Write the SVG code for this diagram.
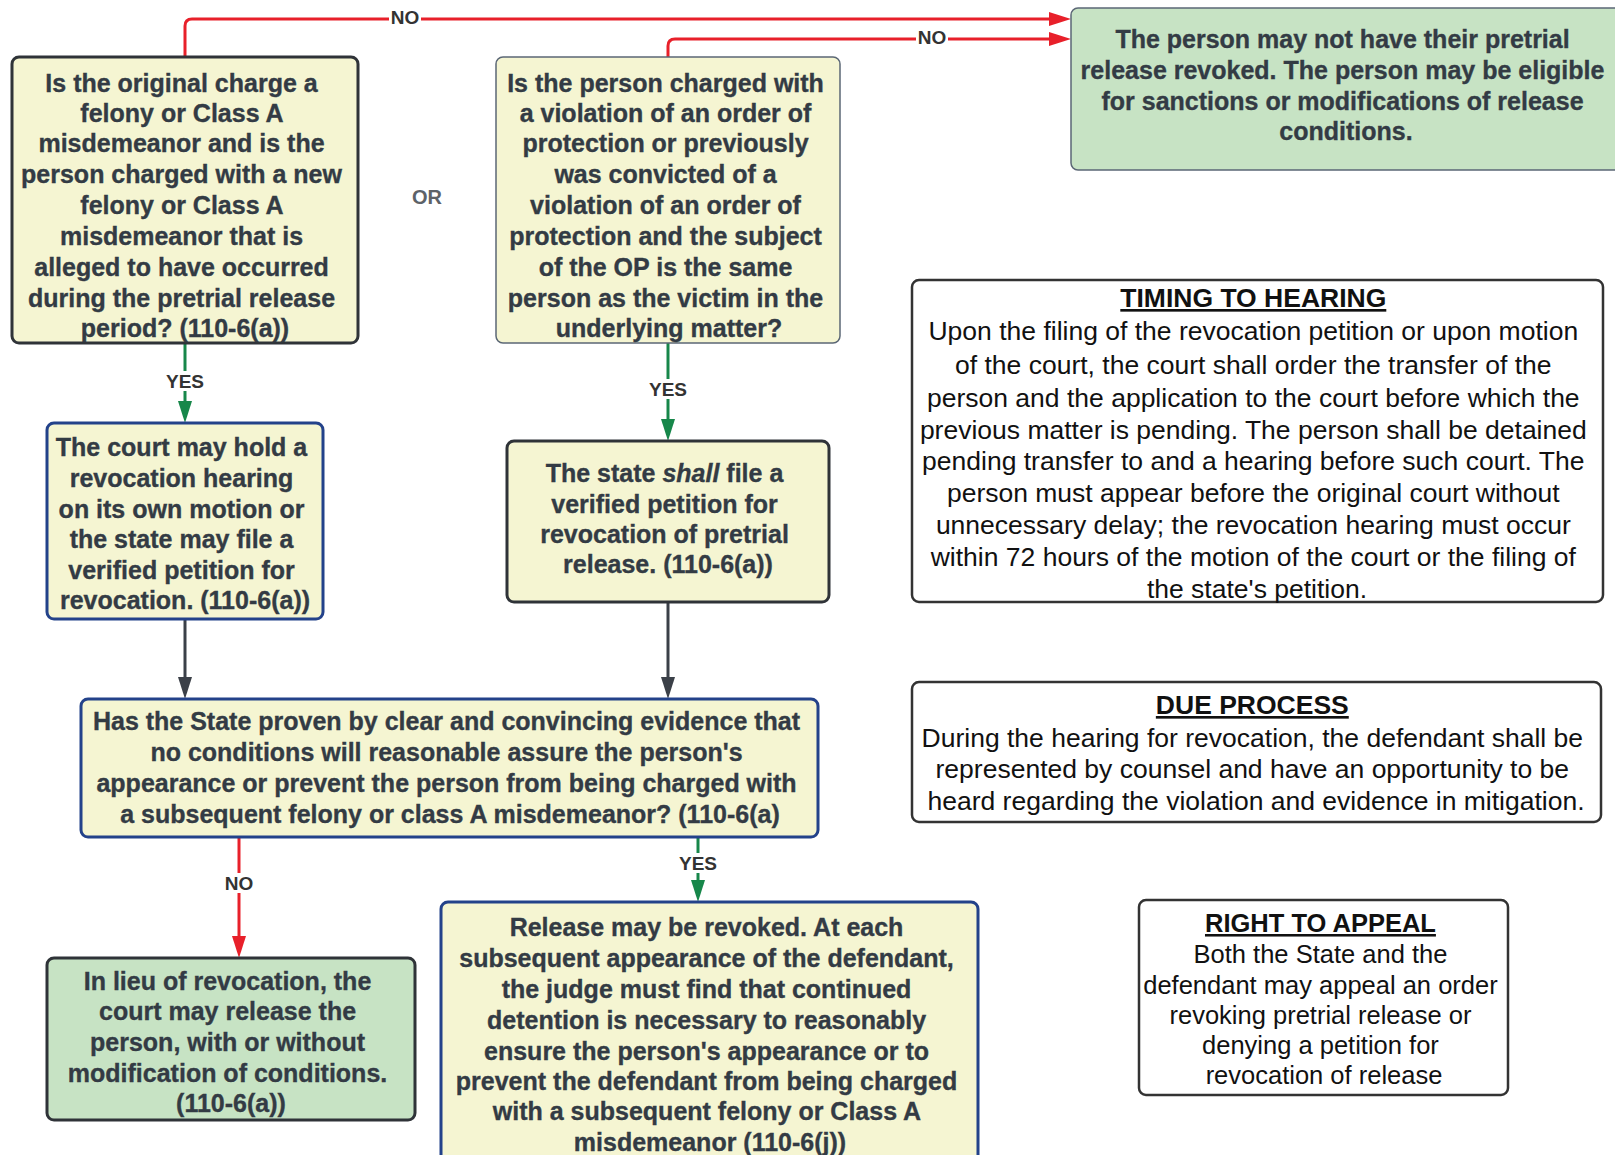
<svg xmlns="http://www.w3.org/2000/svg" width="1615" height="1155" viewBox="0 0 1615 1155">
  <style>
    .bg { fill: #ffffff; }
    .q { fill: #f5f5d2; }
    .ok { fill: #c7e3c4; }
    .dark { stroke: #2f3338; stroke-width: 3; }
    .blue { stroke: #23428a; stroke-width: 3; }
    .thin { stroke: #5b6775; stroke-width: 1.5; }
    .note { fill: #ffffff; stroke: #333333; stroke-width: 2.5; }
    .t { font-family: "Liberation Sans", Arial, sans-serif; font-weight: bold; font-size: 25px; fill: #333b44; stroke: #333b44; stroke-width: 0.35px; text-anchor: middle; }
    .n { font-family: "Liberation Sans", Arial, sans-serif; font-size: 26.5px; fill: #111111; text-anchor: middle; }
    .n.small { font-size: 25.5px; }
    .h { font-weight: bold; text-decoration: underline; }
    .lbl { font-family: "Liberation Sans", Arial, sans-serif; font-weight: bold; font-size: 19px; fill: #333333; text-anchor: middle; }
    .red { fill: none; stroke: #e8202a; stroke-width: 3; }
    .grn { fill: none; stroke: #17874a; stroke-width: 3; }
    .gry { fill: none; stroke: #3b4048; stroke-width: 3; }
  </style>
  <defs>
    <marker id="ah-red" viewBox="0 0 22 14" refX="8" refY="7" markerWidth="22" markerHeight="14" markerUnits="userSpaceOnUse" orient="auto">
      <path d="M0,0 L22,7 L0,14 Z" fill="#e8202a"/>
    </marker>
    <marker id="ah-grn" viewBox="0 0 22 14" refX="8" refY="7" markerWidth="22" markerHeight="14" markerUnits="userSpaceOnUse" orient="auto">
      <path d="M0,0 L22,7 L0,14 Z" fill="#17874a"/>
    </marker>
    <marker id="ah-gry" viewBox="0 0 22 14" refX="8" refY="7" markerWidth="22" markerHeight="14" markerUnits="userSpaceOnUse" orient="auto">
      <path d="M0,0 L22,7 L0,14 Z" fill="#3b4048"/>
    </marker>
  </defs>

  <rect class="bg" x="0" y="0" width="1615" height="1155"/>

  <!-- connectors -->
  <g id="connectors">
    <path class="red" d="M185,57 V26 Q185,19 192,19 H1057" marker-end="url(#ah-red)"/>
    <path class="red" d="M668,57 V46 Q668,39 675,39 H1057" marker-end="url(#ah-red)"/>
    <path class="grn" d="M185,343 V409" marker-end="url(#ah-grn)"/>
    <path class="grn" d="M668,343 V427" marker-end="url(#ah-grn)"/>
    <path class="gry" d="M185,619 V685" marker-end="url(#ah-gry)"/>
    <path class="gry" d="M668,602 V685" marker-end="url(#ah-gry)"/>
    <path class="red" d="M239,837 V944" marker-end="url(#ah-red)"/>
    <path class="grn" d="M698,837 V888" marker-end="url(#ah-grn)"/>

    <rect x="389" y="8" width="32" height="20" fill="#ffffff"/>
    <text class="lbl" x="405" y="24">NO</text>
    <rect x="916" y="28" width="32" height="20" fill="#ffffff"/>
    <text class="lbl" x="932" y="44">NO</text>
    <rect x="164" y="371" width="42" height="20" fill="#ffffff"/>
    <text class="lbl" x="185" y="388">YES</text>
    <rect x="647" y="379" width="42" height="20" fill="#ffffff"/>
    <text class="lbl" x="668" y="396">YES</text>
    <rect x="223" y="873" width="32" height="20" fill="#ffffff"/>
    <text class="lbl" x="239" y="890">NO</text>
    <rect x="677" y="853" width="42" height="20" fill="#ffffff"/>
    <text class="lbl" x="698" y="870">YES</text>
  </g>

  <!-- first question: new felony / Class A charge -->
  <g id="q-new-charge">
    <rect class="q dark" x="12" y="57" width="346" height="286" rx="7"/>
    <text class="t">
      <tspan x="185" y="91.5">Is the original charge a</tspan>
      <tspan x="185" y="122">felony or Class A</tspan>
      <tspan x="185" y="152">misdemeanor and is the</tspan>
      <tspan x="185" y="183">person charged with a new</tspan>
      <tspan x="185" y="214">felony or Class A</tspan>
      <tspan x="185" y="245">misdemeanor that is</tspan>
      <tspan x="185" y="276">alleged to have occurred</tspan>
      <tspan x="185" y="307">during the pretrial release</tspan>
      <tspan x="185" y="337">period? (110-6(a))</tspan>
    </text>
  </g>

  <g id="or-label">
    <text x="427" y="204" font-family="Liberation Sans, Arial, sans-serif" font-weight="bold" font-size="20" fill="#5d6268" text-anchor="middle">OR</text>
  </g>

  <!-- second question: order of protection -->
  <g id="q-order-protection">
    <rect class="q thin" x="496" y="57" width="344" height="286" rx="7"/>
    <text class="t">
      <tspan x="669" y="91.5">Is the person charged with</tspan>
      <tspan x="669" y="122">a violation of an order of</tspan>
      <tspan x="669" y="152">protection or previously</tspan>
      <tspan x="669" y="183">was convicted of a</tspan>
      <tspan x="669" y="214">violation of an order of</tspan>
      <tspan x="669" y="245">protection and the subject</tspan>
      <tspan x="669" y="276">of the OP is the same</tspan>
      <tspan x="669" y="307">person as the victim in the</tspan>
      <tspan x="669" y="337">underlying matter?</tspan>
    </text>
  </g>

  <!-- outcome: no revocation -->
  <g id="no-revocation">
    <rect class="ok thin" x="1071" y="8" width="560" height="162" rx="7"/>
    <text class="t">
      <tspan x="1346" y="48">The person may not have their pretrial</tspan>
      <tspan x="1346" y="79">release revoked. The person may be eligible</tspan>
      <tspan x="1346" y="110">for sanctions or modifications of release</tspan>
      <tspan x="1346" y="140">conditions.</tspan>
    </text>
  </g>

  <!-- court may hold hearing -->
  <g id="court-may-hold">
    <rect class="q blue" x="47" y="423" width="276" height="196" rx="7"/>
    <text class="t">
      <tspan x="185" y="456">The court may hold a</tspan>
      <tspan x="185" y="487">revocation hearing</tspan>
      <tspan x="185" y="518">on its own motion or</tspan>
      <tspan x="185" y="548">the state may file a</tspan>
      <tspan x="185" y="579">verified petition for</tspan>
      <tspan x="185" y="609">revocation. (110-6(a))</tspan>
    </text>
  </g>

  <!-- state shall file -->
  <g id="state-shall-file">
    <rect class="q dark" x="507" y="441" width="322" height="161" rx="7"/>
    <text class="t">
      <tspan x="668" y="482">The state <tspan font-style="italic">shall</tspan> file a</tspan>
      <tspan x="668" y="513">verified petition for</tspan>
      <tspan x="668" y="543">revocation of pretrial</tspan>
      <tspan x="668" y="573">release. (110-6(a))</tspan>
    </text>
  </g>

  <!-- clear and convincing evidence question -->
  <g id="q-clear-convincing">
    <rect class="q blue" x="81" y="699" width="737" height="138" rx="7"/>
    <text class="t">
      <tspan x="450" y="730">Has the State proven by clear and convincing evidence that</tspan>
      <tspan x="450" y="761">no conditions will reasonable assure the person's</tspan>
      <tspan x="450" y="792">appearance or prevent the person from being charged with</tspan>
      <tspan x="450" y="823">a subsequent felony or class A misdemeanor? (110-6(a)</tspan>
    </text>
  </g>

  <!-- release in lieu of revocation -->
  <g id="release-in-lieu">
    <rect class="ok dark" x="47" y="958" width="368" height="162" rx="7"/>
    <text class="t">
      <tspan x="231" y="990">In lieu of revocation, the</tspan>
      <tspan x="231" y="1020">court may release the</tspan>
      <tspan x="231" y="1051">person, with or without</tspan>
      <tspan x="231" y="1082">modification of conditions.</tspan>
      <tspan x="231" y="1112">(110-6(a))</tspan>
    </text>
  </g>

  <!-- release revoked -->
  <g id="release-revoked">
    <rect class="q blue" x="441" y="902" width="537" height="280" rx="7"/>
    <text class="t">
      <tspan x="710" y="936">Release may be revoked. At each</tspan>
      <tspan x="710" y="967">subsequent appearance of the defendant,</tspan>
      <tspan x="710" y="998">the judge must find that continued</tspan>
      <tspan x="710" y="1029">detention is necessary to reasonably</tspan>
      <tspan x="710" y="1060">ensure the person's appearance or to</tspan>
      <tspan x="710" y="1090">prevent the defendant from being charged</tspan>
      <tspan x="710" y="1120">with a subsequent felony or Class A</tspan>
      <tspan x="710" y="1151">misdemeanor (110-6(j))</tspan>
    </text>
  </g>

  <!-- timing note -->
  <g id="timing-to-hearing">
    <rect class="note" x="912" y="280" width="691" height="322" rx="7"/>
    <text class="n">
      <tspan class="h" x="1257" y="307">TIMING TO HEARING</tspan>
      <tspan x="1257" y="340">Upon the filing of the revocation petition or upon motion</tspan>
      <tspan x="1257" y="374">of the court, the court shall order the transfer of the</tspan>
      <tspan x="1257" y="407">person and the application to the court before which the</tspan>
      <tspan x="1257" y="439">previous matter is pending. The person shall be detained</tspan>
      <tspan x="1257" y="470">pending transfer to and a hearing before such court. The</tspan>
      <tspan x="1257" y="502">person must appear before the original court without</tspan>
      <tspan x="1257" y="534">unnecessary delay; the revocation hearing must occur</tspan>
      <tspan x="1257" y="566">within 72 hours of the motion of the court or the filing of</tspan>
      <tspan x="1257" y="598">the state's petition.</tspan>
    </text>
  </g>

  <!-- due process note -->
  <g id="due-process">
    <rect class="note" x="912" y="682" width="689" height="140" rx="7"/>
    <text class="n">
      <tspan class="h" x="1256" y="714">DUE PROCESS</tspan>
      <tspan x="1256" y="747">During the hearing for revocation, the defendant shall be</tspan>
      <tspan x="1256" y="778">represented by counsel and have an opportunity to be</tspan>
      <tspan x="1256" y="810">heard regarding the violation and evidence in mitigation.</tspan>
    </text>
  </g>

  <!-- appeal note -->
  <g id="right-to-appeal">
    <rect class="note" x="1139" y="900" width="369" height="195" rx="7"/>
    <text class="n small">
      <tspan class="h" x="1324" y="932">RIGHT TO APPEAL</tspan>
      <tspan x="1324" y="963">Both the State and the</tspan>
      <tspan x="1324" y="994">defendant may appeal an order</tspan>
      <tspan x="1324" y="1024">revoking pretrial release or</tspan>
      <tspan x="1324" y="1054">denying a petition for</tspan>
      <tspan x="1324" y="1084">revocation of release</tspan>
    </text>
  </g>
</svg>
